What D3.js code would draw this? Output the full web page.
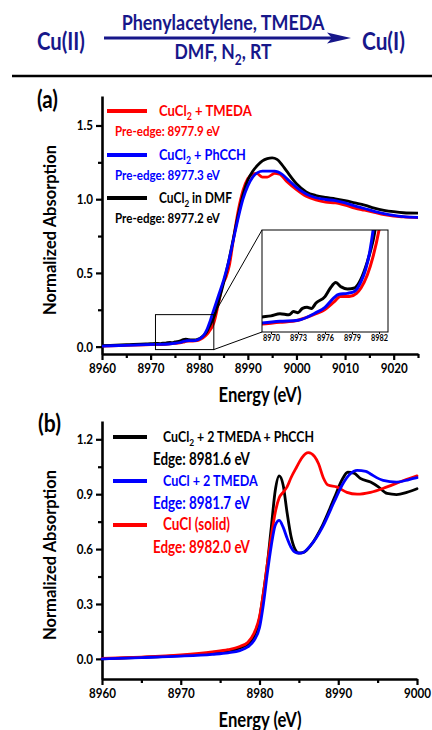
<!DOCTYPE html>
<html><head><meta charset="utf-8">
<script src="https://cdn.jsdelivr.net/npm/d3@7"></script>
<style>
body{margin:0;background:#fff}
svg{display:block}
text{font-family:Lato,'Open Sans',sans-serif;font-weight:700}
</style>
</head><body>
<svg id="c" width="432" height="730"></svg>
<script>
// ---------------- DATA ----------------
// Panel (a)
const aXTicks=[8960,8970,8980,8990,9000,9010,9020];
const aXMinor=[8965,8975,8985,8995,9005,9015,9025];
const aYTicks=[0.0,0.5,1.0,1.5];
const aYMinor=[0.25,0.75,1.25];
const insetTicks=[8970,8973,8976,8979,8982];
const aLegendNames=["CuCl{2} + TMEDA","CuCl{2} + PhCCH","CuCl{2} in DMF"];
const aLegendNotes=["Pre-edge: 8977.9 eV","Pre-edge: 8977.3 eV","Pre-edge: 8977.2 eV"];
const aRed=[[8960,0.003],[8965,0.008],[8969,0.0125],[8971,0.014],[8973,0.016],[8975,0.022],[8976,0.026],[8977,0.033],[8977.7,0.038],[8978.7,0.038],[8979.5,0.041],[8980,0.046],[8980.7,0.058],[8981.3,0.074],[8982,0.10],[8983,0.16],[8984,0.30],[8984.8,0.42],[8985.5,0.47],[8986.2,0.55],[8987,0.72],[8988,0.92],[8989,1.06],[8990,1.14],[8991,1.17],[8991.8,1.175],[8993,1.15],[8994,1.15],[8995.5,1.175],[8996.5,1.17],[8998,1.12],[9000,1.065],[9002,1.02],[9004,0.995],[9006,0.98],[9008,0.975],[9010,0.96],[9012,0.94],[9014,0.925],[9016,0.91],[9018,0.895],[9020,0.885],[9022,0.88],[9025,0.875]];
const aBlack=[[8960,0.006],[8965,0.013],[8969,0.019],[8970,0.02],[8971,0.022],[8972,0.021],[8972.5,0.024],[8973,0.023],[8973.5,0.027],[8974,0.028],[8974.5,0.027],[8975,0.032],[8976,0.038],[8976.6,0.046],[8977.2,0.051],[8977.8,0.047],[8978.5,0.045],[8979.3,0.046],[8979.8,0.051],[8980.5,0.065],[8981,0.079],[8981.5,0.097],[8982,0.13],[8983,0.2],[8984,0.31],[8985,0.43],[8986,0.57],[8987,0.73],[8988,0.89],[8989,1.03],[8990,1.13],[8991,1.19],[8992,1.23],[8993,1.26],[8994,1.275],[8995,1.28],[8996,1.27],[8997,1.235],[8998,1.19],[9000,1.105],[9002,1.05],[9004,1.025],[9006,1.012],[9008,1.003],[9010,0.99],[9012,0.975],[9014,0.96],[9016,0.94],[9018,0.925],[9020,0.915],[9022,0.908],[9025,0.905]];
const aBlue=[[8960,0.004],[8965,0.009],[8969,0.0134],[8971,0.015],[8973,0.016],[8975,0.023],[8976,0.028],[8977,0.037],[8977.5,0.040],[8978.5,0.041],[8979.3,0.043],[8980,0.052],[8980.5,0.063],[8981,0.081],[8981.5,0.11],[8982.3,0.18],[8983,0.25],[8984,0.35],[8985,0.45],[8986,0.57],[8987,0.72],[8988,0.87],[8989,1.0],[8990,1.09],[8991,1.15],[8992,1.18],[8993,1.19],[8994,1.19],[8995.5,1.19],[8997,1.17],[8998.5,1.125],[9000,1.08],[9002,1.035],[9004,1.01],[9006,0.998],[9008,0.99],[9010,0.975],[9012,0.955],[9014,0.937],[9016,0.918],[9018,0.902],[9020,0.89],[9022,0.882],[9025,0.877]];

// Panel (b)
const bXTicks=[8960,8970,8980,8990,9000];
const bXMinor=[8965,8975,8985,8995];
const bYTicks=[0.0,0.3,0.6,0.9,1.2];
const bYMinor=[0.15,0.45,0.75,1.05];
const bLegendNames=["CuCl{2} + 2 TMEDA + PhCCH","CuCl + 2 TMEDA","CuCl (solid)"];
const bLegendNotes=["Edge: 8981.6 eV","Edge: 8981.7 eV","Edge: 8982.0 eV"];
const bBlack=[[8960,0.0],[8965,0.008],[8970,0.018],[8974,0.03],[8976,0.042],[8977.5,0.06],[8978.5,0.08],[8979.3,0.12],[8980,0.22],[8980.5,0.36],[8981,0.52],[8981.5,0.72],[8982,0.92],[8982.5,1.0],[8983,0.95],[8983.5,0.8],[8984,0.67],[8984.5,0.6],[8985,0.578],[8985.6,0.582],[8986.5,0.62],[8988,0.73],[8989.5,0.88],[8990.5,0.98],[8991.2,1.02],[8992,1.015],[8992.8,0.986],[8994.1,0.966],[8995.1,0.94],[8996.2,0.904],[8997.4,0.898],[8998.7,0.91],[9000,0.93]];
const bBlue=[[8960,0.0],[8965,0.007],[8970,0.015],[8974,0.025],[8976,0.033],[8977.5,0.045],[8978.5,0.065],[8979.3,0.1],[8980,0.17],[8980.5,0.3],[8981,0.47],[8981.5,0.62],[8982,0.73],[8982.5,0.757],[8983,0.72],[8983.5,0.66],[8984,0.61],[8984.7,0.58],[8985.3,0.578],[8986.5,0.62],[8988,0.72],[8989.5,0.86],[8990.5,0.95],[8991.5,1.01],[8992.4,1.03],[8993.5,1.025],[8994.1,1.01],[8995.7,0.975],[8997.4,0.966],[8999,0.98],[9000,0.99]];
const bRed=[[8960,0.002],[8965,0.01],[8970,0.022],[8974,0.038],[8976,0.05],[8977.5,0.068],[8978.5,0.09],[8979.3,0.14],[8980,0.23],[8980.5,0.36],[8981,0.52],[8981.5,0.67],[8982,0.8],[8982.5,0.88],[8983,0.91],[8983.5,0.94],[8984,0.99],[8984.7,1.047],[8985.4,1.10],[8986.2,1.127],[8987,1.105],[8987.5,1.066],[8988.1,0.99],[8988.7,0.95],[8989.8,0.94],[8991.1,0.91],[8992.4,0.90],[8994.1,0.91],[8996.2,0.94],[8998.3,0.975],[9000,1.0]];

// Header
const headerLeft="Cu(II)", headerRight="Cu(I)";
const headerTop="Phenylacetylene, TMEDA", headerBottom="DMF, N{2}, RT";

// ---------------- HELPERS ----------------
const svg=d3.select('#c');
const NAVY='#17178a', RED='#ff0000', BLUE='#0000ff', BLACK='#000000';
const K=1.2; // vertical stretch of the glyphs relative to their width

function addRich(t,str,fs){
  const parts=str.split(/(\{[^}]*\})/).filter(s=>s.length);
  let shifted=false;
  parts.forEach(p=>{
    if(p[0]==='{'){
      t.append('tspan').text(p.slice(1,-1)).attr('font-size',fs*0.68).attr('dy',fs*0.28);
      shifted=true;
    } else {
      const ts=t.append('tspan').text(p).attr('font-size',fs);
      if(shifted){ts.attr('dy',-fs*0.28);shifted=false;}
    }
  });
}
function fitSize(str,w){
  const t=svg.append('text').attr('font-size',100);
  addRich(t,str,100);
  const bw=t.node().getBBox().width; t.remove();
  return 100*w/bw;
}
function label(str,x,y,w,opt={}){
  const fs=fitSize(str,w);
  const k=opt.rotate?1:K;
  const t=svg.append('text').attr('x',0).attr('y',0)
    .attr('text-anchor',opt.anchor||'start').attr('fill',opt.color||BLACK);
  t.attr('transform',`translate(${x},${y})`+(opt.rotate?` rotate(${opt.rotate})`:'')+` scale(${1/k},1)`);
  addRich(t,str,fs*k);
  return t;
}

// ---------------- HEADER ----------------
label(headerLeft,37,50,48,{color:NAVY});
label(headerRight,362,50,43,{color:NAVY});
label(headerTop,223,30,203,{color:NAVY,anchor:'middle'});
label(headerBottom,223,59,97,{color:NAVY,anchor:'middle'});
svg.append('line').attr('x1',104).attr('x2',334).attr('y1',38).attr('y2',38)
  .attr('stroke',NAVY).attr('stroke-width',3);
svg.append('path').attr('d','M351,38 L327,32.5 L332,38 L327,43.5 Z').attr('fill',NAVY);
svg.append('line').attr('x1',12).attr('x2',432).attr('y1',76).attr('y2',76)
  .attr('stroke','#000').attr('stroke-width',2.6);

// ---------------- AXIS DRAWER ----------------
const tickFs=fitSize("8960",27);
function styleTickText(sel,left){
  sel.selectAll('.tick text').attr('font-size',tickFs*K).attr('fill','#000')
    .attr('font-family','Lato,sans-serif').attr('font-weight',700)
    .attr('transform',`scale(${1/K},1)`)
    .each(function(){ if(left){const e=d3.select(this); e.attr('x',+e.attr('x')*K);} });
}
function drawAxes(g,x,y,xt,xm,yt,ym,yfmt){
  const xa=g.append('g').attr('transform',`translate(0,${y.range()[0]})`)
    .call(d3.axisBottom(x).tickValues(xt).tickSize(6).tickSizeOuter(0).tickPadding(3).tickFormat(d3.format('d')));
  styleTickText(xa,false);
  g.append('g').attr('transform',`translate(0,${y.range()[0]})`)
    .call(d3.axisBottom(x).tickValues(xm).tickSize(4).tickSizeOuter(0).tickFormat(''))
    .select('.domain').remove();
  const ya=g.append('g').attr('transform',`translate(${x.range()[0]},0)`)
    .call(d3.axisLeft(y).tickValues(yt).tickSize(6).tickSizeOuter(0).tickPadding(3).tickFormat(d3.format(yfmt)));
  styleTickText(ya,true);
  g.append('g').attr('transform',`translate(${x.range()[0]},0)`)
    .call(d3.axisLeft(y).tickValues(ym).tickSize(4).tickSizeOuter(0).tickFormat(''))
    .select('.domain').remove();
  g.selectAll('.domain').attr('stroke','#000').attr('stroke-width',2.6);
  g.selectAll('.tick line').attr('stroke','#000').attr('stroke-width',2.2);
}
function drawLine(g,data,x,y,color,w=2.8){
  g.append('path').datum(data)
    .attr('d',d3.line().x(d=>x(d[0])).y(d=>y(d[1])).curve(d3.curveMonotoneX))
    .attr('fill','none').attr('stroke',color).attr('stroke-width',w)
    .attr('stroke-linejoin','round').attr('stroke-linecap','round');
}

// ---------------- PANEL A ----------------
const ga=svg.append('g');
const ax=d3.scaleLinear().domain([8960,9025]).range([102,418]);
const ay=d3.scaleLinear().domain([-0.05,1.7]).range([354,96]);
drawAxes(ga,ax,ay,aXTicks,aXMinor,aYTicks,aYMinor,'.1f');
svg.append('clipPath').attr('id','clipA').append('rect')
  .attr('x',ax.range()[0]).attr('y',ay.range()[1]).attr('width',ax.range()[1]-ax.range()[0]).attr('height',ay.range()[0]-ay.range()[1]);
const gac=ga.append('g').attr('clip-path','url(#clipA)');
drawLine(gac,aRed,ax,ay,RED);
drawLine(gac,aBlack,ax,ay,BLACK);
drawLine(gac,aBlue,ax,ay,BLUE);

// zoom rectangle on main
const zx0=8971, zx1=8983, zy0=-0.02, zy1=0.217;
ga.append('rect').attr('x',ax(zx0)).attr('y',ay(zy1)).attr('width',ax(zx1)-ax(zx0)).attr('height',ay(zy0)-ay(zy1))
  .attr('fill','none').attr('stroke','#000').attr('stroke-width',1);

// inset
const ix=d3.scaleLinear().domain([8969,8983]).range([262,388]);
const iy=d3.scaleLinear().domain([0.005,0.10]).range([332,230]);
const gi=svg.append('g');
gi.append('rect').attr('x',ix.range()[0]).attr('y',iy.range()[1]).attr('width',ix.range()[1]-ix.range()[0]).attr('height',iy.range()[0]-iy.range()[1]).attr('fill','#fff');
svg.append('clipPath').attr('id','clipI').append('rect')
  .attr('x',ix.range()[0]).attr('y',iy.range()[1]).attr('width',ix.range()[1]-ix.range()[0]).attr('height',iy.range()[0]-iy.range()[1]);
const gic=gi.append('g').attr('clip-path','url(#clipI)');
drawLine(gic,aRed,ix,iy,RED,3);
drawLine(gic,aBlack,ix,iy,BLACK,3);
drawLine(gic,aBlue,ix,iy,BLUE,3);
gi.append('rect').attr('x',ix.range()[0]).attr('y',iy.range()[1]).attr('width',ix.range()[1]-ix.range()[0]).attr('height',iy.range()[0]-iy.range()[1])
  .attr('fill','none').attr('stroke','#000').attr('stroke-width',1);
const insetFs=fitSize("8970",17);
gi.append('g').attr('transform',`translate(0,${iy.range()[0]})`)
  .call(d3.axisBottom(ix).tickValues(insetTicks).tickSize(2).tickSizeOuter(0).tickPadding(1).tickFormat(d3.format('d')))
  .call(g=>{g.select('.domain').remove();g.selectAll('line').attr('stroke','#000');
    g.selectAll('text').attr('font-size',insetFs*K).attr('fill','#000').attr('font-family','Lato,sans-serif').attr('font-weight',700)
      .attr('transform',`scale(${1/K},1)`);});
// connectors
ga.append('line').attr('x1',ax(zx1)).attr('y1',ay(zy1)).attr('x2',ix.range()[0]).attr('y2',iy.range()[1]).attr('stroke','#000').attr('stroke-width',1);
ga.append('line').attr('x1',ax(zx1)).attr('y1',ay(zy0)).attr('x2',ix.range()[0]).attr('y2',iy.range()[0]).attr('stroke','#000').attr('stroke-width',1);

// legend a
const aColors=[RED,BLUE,BLACK];
const aLegY=[111,155,198];
const aNameW=[93,87,73];
aLegendNames.forEach((n,i)=>{
  svg.append('line').attr('x1',107).attr('x2',147).attr('y1',aLegY[i]).attr('y2',aLegY[i])
    .attr('stroke',aColors[i]).attr('stroke-width',4);
  label(n,159,aLegY[i]+5,aNameW[i],{color:aColors[i]});
  label(aLegendNotes[i],115,aLegY[i]+25,105,{color:aColors[i]});
});
label("(a)",37,108,21);
label("Normalized Absorption",56,230,170,{anchor:'middle',rotate:-90});
label("Energy (eV)",260,402,83,{anchor:'middle'});

// ---------------- PANEL B ----------------
const gb=svg.append('g');
const bx=d3.scaleLinear().domain([8960,9000]).range([102,417]);
const by=d3.scaleLinear().domain([-0.11,1.3]).range([679,421]);
drawAxes(gb,bx,by,bXTicks,bXMinor,bYTicks,bYMinor,'.1f');
drawLine(gb,bBlack,bx,by,BLACK);
drawLine(gb,bRed,bx,by,RED);
drawLine(gb,bBlue,bx,by,BLUE);

const bColors=[BLACK,BLUE,RED];
const bLegY=[437,481,525];
const bNameW=[151,95,67];
bLegendNames.forEach((n,i)=>{
  svg.append('line').attr('x1',113).attr('x2',147).attr('y1',bLegY[i]).attr('y2',bLegY[i])
    .attr('stroke',bColors[i]).attr('stroke-width',4);
  label(n,163,bLegY[i]+5,bNameW[i],{color:bColors[i]});
  label(bLegendNotes[i],153,bLegY[i]+28,97,{color:bColors[i]});
});
label("(b)",38,432,23);
label("Normalized Absorption",56,555,170,{anchor:'middle',rotate:-90});
label("Energy (eV)",260,727,83,{anchor:'middle'});
</script>
</body></html>
